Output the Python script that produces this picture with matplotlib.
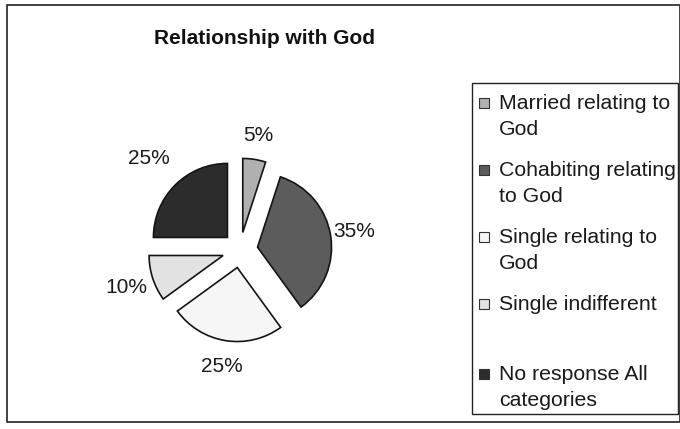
import matplotlib.pyplot as plt
from matplotlib.patches import Rectangle
import numpy as np

plt.rcParams['font.family'] = ['Liberation Sans', 'DejaVu Sans']

# Dades del gràfic
categories = ['Married relating to\nGod',
              'Cohabiting relating\nto God',
              'Single relating to\nGod',
              'Single indifferent',
              'No response All\ncategories']
percentatges = [5, 35, 25, 10, 25]
colors = ['#b0b0b0', '#5c5c5c', '#f6f6f6', '#e2e2e2', '#2c2c2c']

W, H = 680, 429
fig = plt.figure(figsize=(W / 100, H / 100), dpi=100)

def px(x, y):
    # píxels (origen a dalt) -> fracció de figura
    return x / W, 1 - y / H

# Marc exterior
fig.patches.append(Rectangle(px(7, 422), (680 - 7) / W, (422 - 5) / H,
                             transform=fig.transFigure, fill=False,
                             edgecolor='#222222', linewidth=1.2))

# Eix del pastís: radi de 74 px, centre a (240, 250)
R = 74
lim = 1.7
costat = 2 * lim * R
x0, y0 = px(240 - costat / 2, 250 + costat / 2)
ax = fig.add_axes([x0, y0, costat / W, costat / H])

wedges, texts, autotexts = ax.pie(percentatges, colors=colors, startangle=90,
                                  counterclock=False, explode=[0.24] * 5,
                                  autopct='%d%%', pctdistance=1.35,
                                  wedgeprops=dict(edgecolor='#141414', linewidth=1.2))
ax.set_xlim(-lim, lim)
ax.set_ylim(-lim, lim)
ax.set_aspect('equal')

# Distància de cada etiqueta al centre de la porció
dist_etiquetes = [1.32, 1.32, 1.35, 1.38, 1.5]
for w, t, d in zip(wedges, autotexts, dist_etiquetes):
    theta = np.deg2rad((w.theta1 + w.theta2) / 2)
    cx, cy = w.center
    t.set_position((cx + d * np.cos(theta), cy + d * np.sin(theta)))
    t.set_fontsize(15)
    t.set_color('#1a1a1a')

# Títol
fig.text(*px(264, 39), 'Relationship with God', ha='center', va='center',
         fontsize=15, fontweight='bold', color='#111111')

# Llegenda
fig.patches.append(Rectangle(px(472, 414), (678 - 472) / W, (414 - 83) / H,
                             transform=fig.transFigure, fill=False,
                             edgecolor='#222222', linewidth=1.0))
pas = 67
for i, (nom, c) in enumerate(zip(categories, colors)):
    y = 103 + i * pas
    if i == 4:
        y += 3
    fig.patches.append(Rectangle(px(479, y + 5), 10 / W, 10 / H,
                                 transform=fig.transFigure, facecolor=c,
                                 edgecolor='#333333', linewidth=0.8))
    fig.text(*px(499, y - 9), nom, ha='left', va='top', fontsize=15.3,
             linespacing=1.45, color='#1a1a1a')

plt.savefig('out.png', dpi=100)
